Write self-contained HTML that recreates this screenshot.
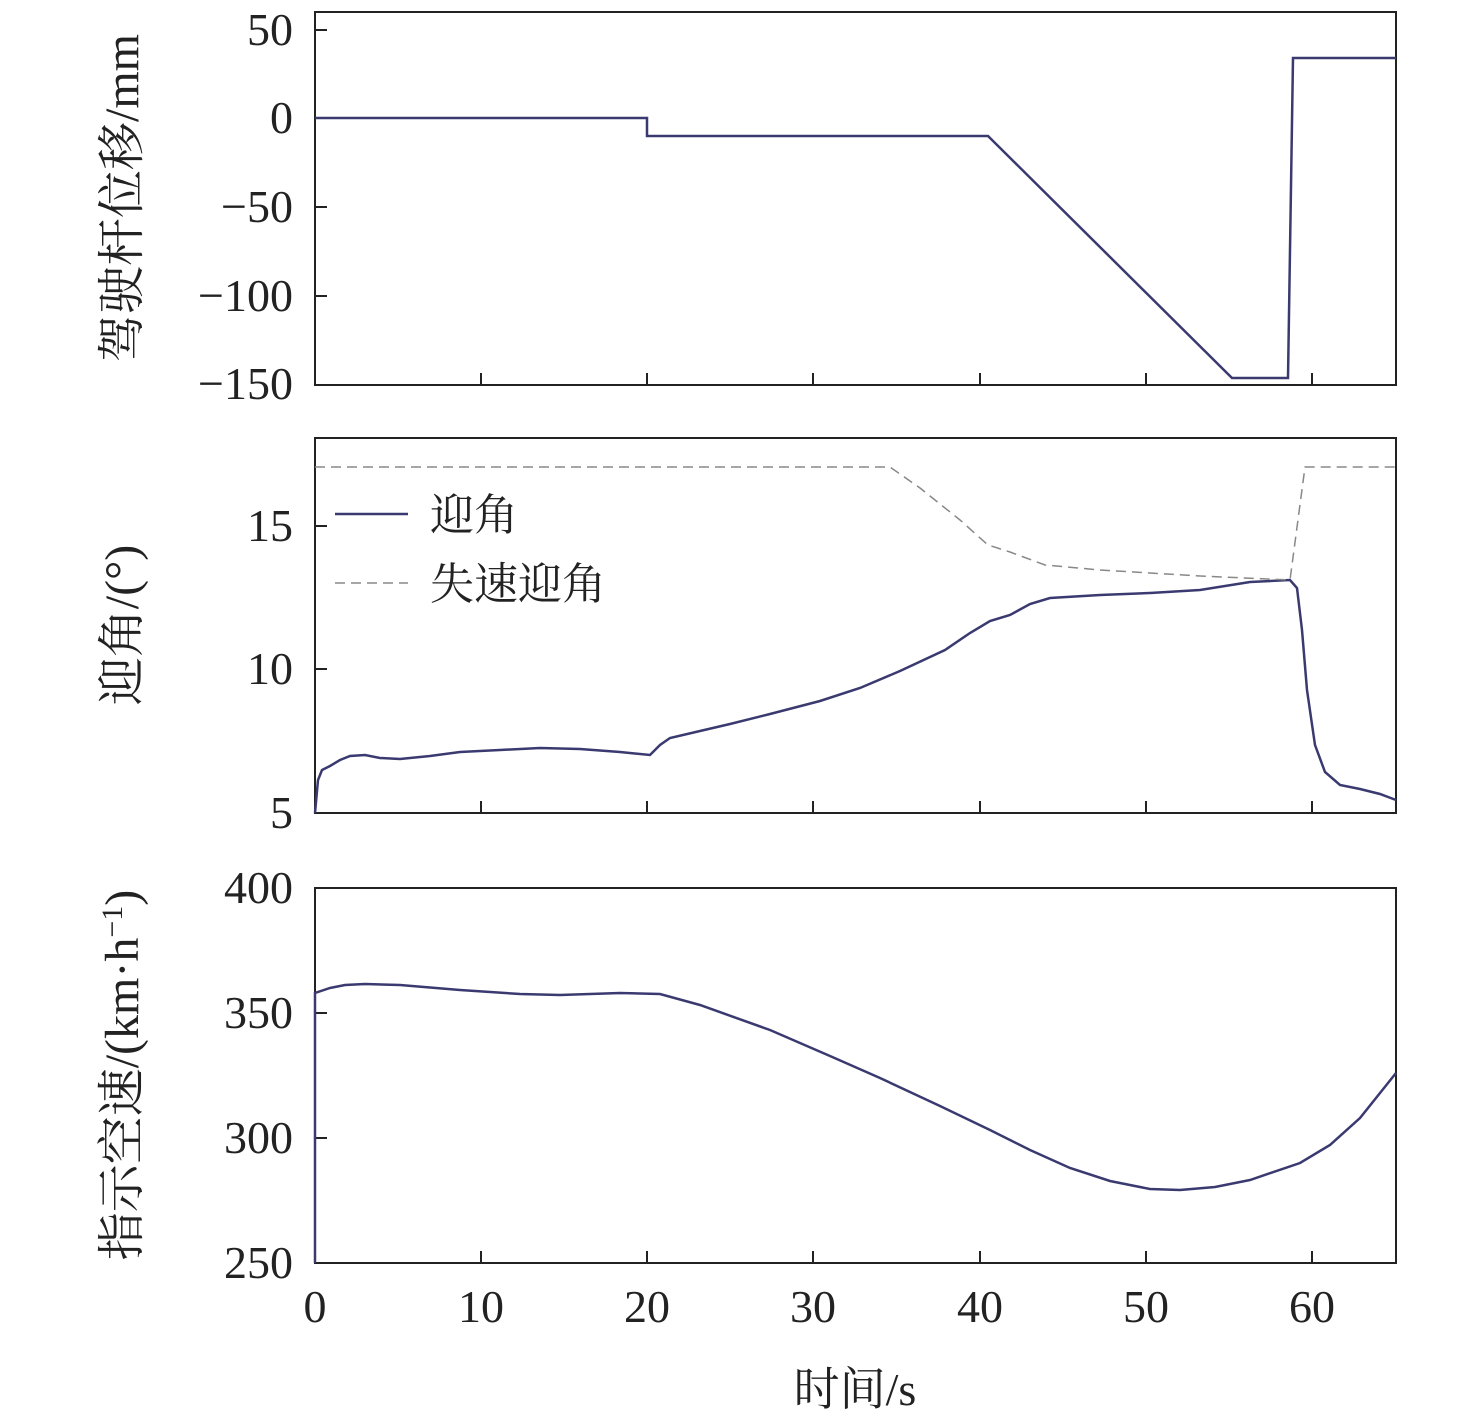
<!DOCTYPE html>
<html><head><meta charset="utf-8"><style>
body{margin:0;background:#fff}
svg text{font-family:"Liberation Serif","Noto Serif CJK SC",serif;fill:#222}
</style></head><body>
<svg width="1476" height="1422" viewBox="0 0 1476 1422" xmlns="http://www.w3.org/2000/svg">
<g fill="none" stroke="#222" stroke-width="2">
<rect x="315" y="12" width="1081" height="373"/>
<rect x="315" y="438" width="1081" height="375"/>
<rect x="315" y="888" width="1081" height="375"/>
<path d="M481 385v-12M647 385v-12M813 385v-12M980 385v-12M1146 385v-12M1312 385v-12
M481 813v-12M647 813v-12M813 813v-12M980 813v-12M1146 813v-12M1312 813v-12
M481 1263v-12M647 1263v-12M813 1263v-12M980 1263v-12M1146 1263v-12M1312 1263v-12
M315 30h12M315 118h12M315 207h12M315 296h12
M315 526h12M315 669h12
M315 1013h12M315 1138h12"/>
</g>
<g font-size="46" text-anchor="end">
<text x="293" y="45">50</text><text x="293" y="133">0</text><text x="293" y="222">−50</text><text x="293" y="311">−100</text><text x="293" y="399">−150</text>
<text x="293" y="541">15</text><text x="293" y="684">10</text><text x="293" y="828">5</text>
<text x="293" y="903">400</text><text x="293" y="1028">350</text><text x="293" y="1153">300</text><text x="293" y="1278">250</text>
</g>
<g font-size="46" text-anchor="middle">
<text x="315" y="1322">0</text><text x="481" y="1322">10</text><text x="647" y="1322">20</text><text x="813" y="1322">30</text><text x="980" y="1322">40</text><text x="1146" y="1322">50</text><text x="1312" y="1322">60</text>
<text x="855" y="1405">时间/s</text>
</g>
<g font-size="48" text-anchor="middle">
<text transform="translate(138,198) rotate(-90)">驾驶杆位移/mm</text>
<text transform="translate(138,625) rotate(-90)">迎角/(°)</text>
<text transform="translate(138,1075) rotate(-90)">指示空速/(km·h<tspan font-size="30" dy="-16">−1</tspan><tspan dy="16">)</tspan></text>
</g>
<g fill="none" stroke="#3a3a70" stroke-width="2.5">
<path d="M315 118H647V136H988L1232 378H1288L1293 58H1396"/>
<path d="M315 813L318 780L322 770L330 766L340 760L350 756L365 755L380 758L400 759L430 756L460 752L500 750L540 748L580 749L620 752L650 755L660 745L670 738L700 731L730 724L770 714L820 701L860 688L900 671L945 650L970 633L990 621L1010 615L1030 604L1050 598L1100 595L1150 593L1200 590L1250 582L1290 580L1297 588L1302 630L1307 690L1315 745L1325 772L1340 785L1360 789L1380 794L1396 800"/>
<path d="M315 1263V993L330 988L345 985L365 984L400 985L460 990L520 994L560 995L620 993L660 994L700 1005L770 1030L830 1056L880 1078L940 1106L990 1130L1030 1150L1070 1168L1110 1181L1150 1189L1180 1190L1215 1187L1250 1180L1300 1163L1330 1145L1360 1118L1396 1073"/>
</g>
<path d="M315 467H890L920 488L960 520L988 545L1010 552L1045 565L1100 570L1200 576L1290 580L1305 467H1396" fill="none" stroke="#888" stroke-width="1.5" stroke-dasharray="10,6"/>
<path d="M335 514H408" stroke="#3a3a70" stroke-width="2.5"/>
<path d="M335 583H408" stroke="#888" stroke-width="1.5" stroke-dasharray="10,6"/>
<g font-size="44"><text x="430" y="530">迎角</text><text x="430" y="599">失速迎角</text></g>
</svg>
</body></html>
